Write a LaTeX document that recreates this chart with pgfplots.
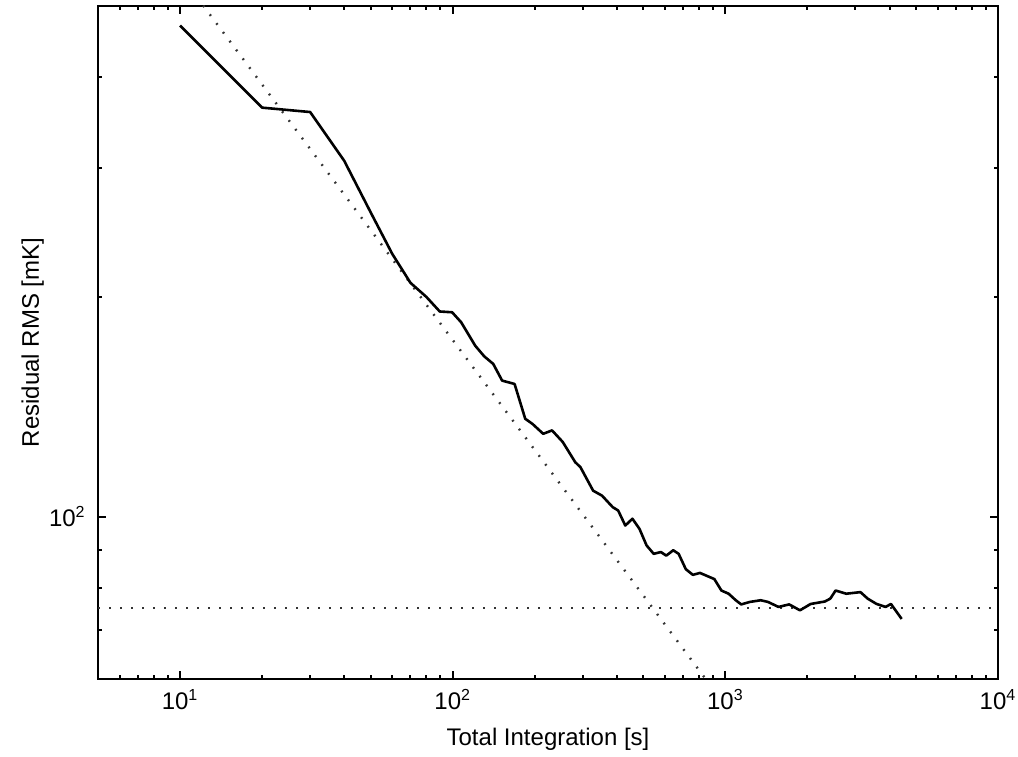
\documentclass[border=0pt]{standalone}
\usepackage{fontspec}
\setmainfont{Liberation Sans}
\usepackage{pgfplots}
\pgfplotsset{compat=1.18}
\begin{document}
\fontsize{12}{14}\selectfont
\begin{tikzpicture}
\path[use as bounding box] (-49pt,-38.5pt) rectangle (460pt,339.5pt);
\begin{axis}[
  scale only axis, width=450pt, height=336.5pt,
  at={(0,0)}, anchor=south west,
  xmode=log, ymode=log,
  xmin=5, xmax=10000, ymin=60, ymax=500,
  xtick={10,100,1000,10000},
  xticklabels={10\textsuperscript{1},10\textsuperscript{2},10\textsuperscript{3},10\textsuperscript{4}},
  minor xtick={6,7,8,9,20,30,40,50,60,70,80,90,200,300,400,500,600,700,800,900,2000,3000,4000,5000,6000,7000,8000,9000},
  ytick={100}, yticklabels={10\textsuperscript{2}},
  minor ytick={60,70,80,90,200,300,400},
  tick align=inside,
  major tick length=4pt, minor tick length=2pt,
  every tick/.style={black, line width=1pt},
  axis line style={line width=1.1pt, black},
  tick label style={font=\fontsize{12}{14}\selectfont},
  xticklabel style={yshift=-1pt},
  yticklabel style={xshift=-2pt},
  xlabel={Total Integration [s]},
  ylabel={Residual RMS [mK]},
  label style={font=\fontsize{12}{14}\selectfont},
  xlabel style={at={(axis description cs:0.5,0)}, anchor=base, yshift=-33.5pt},
  ylabel style={at={(axis description cs:-0.0656,0.5)}, anchor=base, rotate=0},
  clip=true,
]
% horizontal dotted reference line
\addplot[black!80, line width=1.2pt, dash pattern=on 0.9pt off 4.6pt] coordinates {(5,75.1) (10000,75.1)};
% radiometer-equation dotted line
\addplot[black!80, line width=1.2pt, dash pattern=on 0.9pt off 4.6pt] coordinates {(5,780.8) (1000,55.2)};
% measured residual RMS
\addplot[black, line width=1.3pt, line join=round] coordinates {
(10,470) (20,363) (30,358) (40,307) (50,261) (60,229) (70,209) (80,200)
(89.6,191) (99.5,190.5) (107.4,184.6) (121,171.4) (130.5,165.8) (140.8,161.9)
(151.8,153.6) (168.6,152) (184.5,136.2) (196.2,134) (214.7,129.9) (231.4,131.3)
(253.2,126.6) (281.4,118.8) (294.2,116.9) (327.3,108.6) (352.9,106.9) (386.3,103.1)
(404.5,102) (429.5,97.3) (456.2,99.4) (484,96.3) (514,91.4) (546,89) (580,89.5)
(607,88.5) (644,90) (674,89) (716,84.8) (760,83.3) (807,83.8) (911,82.2)
(967,79.3) (1028,78.5) (1092,76.9) (1143,75.9) (1231,76.5) (1348,76.9)
(1432,76.5) (1567,75.3) (1714,75.9) (1878,74.5) (2055,76.0) (2318,76.6)
(2426,77.3) (2537,79.3) (2776,78.5) (3130,78.9) (3326,77.3) (3586,76.0)
(3870,75.3) (4049,76.0) (4433,72.5)
};
\end{axis}
\end{tikzpicture}
\end{document}
